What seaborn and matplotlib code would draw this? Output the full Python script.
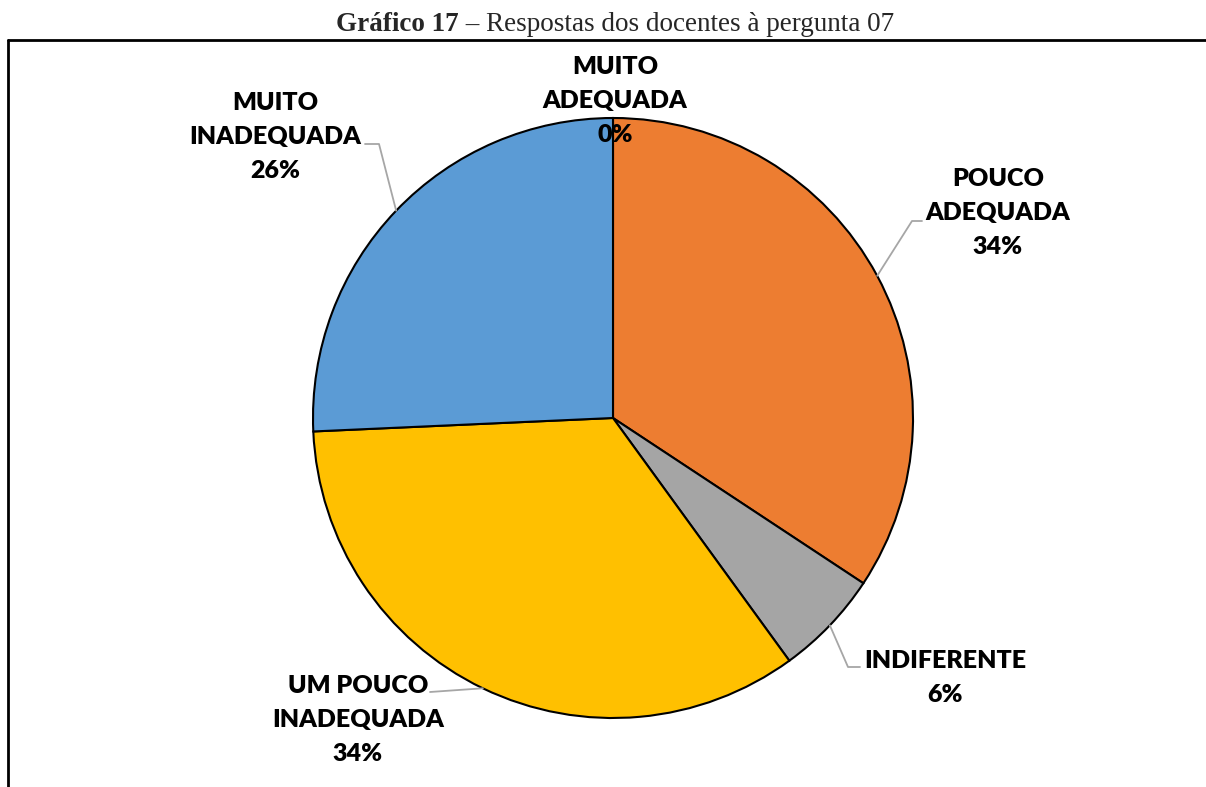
import numpy as np
import seaborn as sns
import matplotlib.pyplot as plt

# respostas (contagem de docentes)
categorias = ["MUITO\nADEQUADA", "POUCO\nADEQUADA", "INDIFERENTE",
              "UM POUCO\nINADEQUADA", "MUITO\nINADEQUADA"]
respostas = [0, 12, 2, 12, 9]
cores = ["#4472C4", "#ED7D31", "#A5A5A5", "#FFC000", "#5B9BD5"]

sns.set_theme(style="white")
plt.rcParams["font.family"] = ["Lato", "DejaVu Sans"]

W, H = 1206, 787
fig = plt.figure(figsize=(W / 100, H / 100), dpi=100)

cx, cy, r = 613, 418, 300
# pizza (eixo com y para cima)
pax = fig.add_axes([0, 0, 1, 1])
wedges, _ = pax.pie(respostas, colors=cores, startangle=90, counterclock=False,
                    center=(cx, H - cy), radius=r,
                    wedgeprops=dict(edgecolor="black", linewidth=1.5))
pax.set_xlim(0, W)
pax.set_ylim(0, H)
pax.axis("off")

# camada de anotações (coordenadas em pixels, y para baixo)
ax = fig.add_axes([0, 0, 1, 1], zorder=5)
ax.set_xlim(0, W)
ax.set_ylim(H, 0)
ax.axis("off")
ax.patch.set_alpha(0)

total = sum(respostas)
pcts = [f"{round(100 * v / total)}%" for v in respostas]

# posições dos rótulos (centro do bloco) e cotovelo da linha guia
rotulos = [(615, 101), (998, 213), (945, 678), (358, 720), (275, 137)]
cotovelos = [None, [(912, 221), (922, 221)], [(848, 667), (860, 667)],
             [(430, 692)], [(379, 144), (365, 144)]]

for w, nome, p, (tx, ty), cot in zip(wedges, categorias, pcts, rotulos, cotovelos):
    ax.text(tx, ty, f"{nome}\n{p}", ha="center", va="center", fontsize=18,
            fontweight="heavy", color="black", linespacing=1.64, zorder=5)
    if cot is None:
        continue
    ang = np.deg2rad((w.theta1 + w.theta2) / 2)
    xs = [cx + r * np.cos(ang)] + [c[0] for c in cot]
    ys = [cy - r * np.sin(ang)] + [c[1] for c in cot]
    ax.plot(xs, ys, color="#A6A6A6", lw=1.3, zorder=4)

# moldura
ax.plot([8, W], [40, 40], color="black", lw=2, zorder=6)
ax.plot([8, 8], [40, H], color="black", lw=2, zorder=6)

# título
fig.canvas.draw()
t1 = ax.text(0, 31, "Gráfico 17", ha="left", va="baseline", fontsize=19.5,
             fontweight="bold", family=["Liberation Serif"])
t2 = ax.text(0, 31, " – Respostas dos docentes à pergunta 07", ha="left",
             va="baseline", fontsize=19.5, family=["Liberation Serif"])
rend = fig.canvas.get_renderer()
w1 = t1.get_window_extent(rend).width
w2 = t2.get_window_extent(rend).width
x0 = 615 - (w1 + w2) / 2
t1.set_x(x0)
t2.set_x(x0 + w1)

fig.savefig("out.png", dpi=100)
